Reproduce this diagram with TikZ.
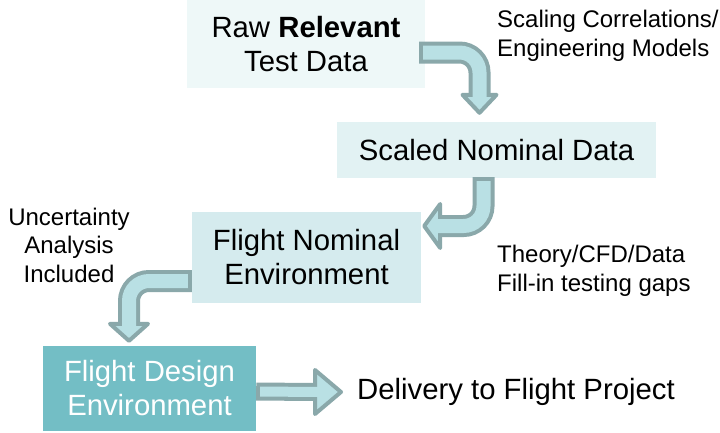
\documentclass[tikz,border=0pt]{standalone}
\usepackage{fontspec}
\setmainfont{Liberation Sans}
\usetikzlibrary{calc}
\definecolor{boxA}{RGB}{238,248,248}
\definecolor{boxB}{RGB}{226,242,243}
\definecolor{boxC}{RGB}{213,235,238}
\definecolor{boxD}{RGB}{115,190,197}
\definecolor{arrfill}{RGB}{185,224,228}
\definecolor{arrline}{RGB}{138,168,170}
\tikzset{
  box/.style={inner sep=0pt,align=center,font=\fontsize{29.3}{34}\selectfont},
  note/.style={inner sep=0pt,font=\fontsize{24}{28.5}\selectfont},
  fatout/.style={draw=arrline,line width=22pt,rounded corners=20pt},
  fatin/.style={draw=arrfill,line width=14pt,rounded corners=20pt},
  fathead/.style={fill=arrfill,draw=arrline,line width=4pt,line join=round}
}

\begin{document}
\begin{tikzpicture}[x=1pt,y=-1pt]
\useasboundingbox (0,0) rectangle (720,432);
\node[box,fill=boxA,minimum width=238pt,minimum height=88pt] (A) at (306,44) {Raw \textbf{Relevant}\\Test Data};
\node[box,fill=boxB,minimum width=319pt,minimum height=56pt] (B) at (496.5,150) {Scaled Nominal Data};
\node[box,fill=boxC,minimum width=229pt,minimum height=91pt] (C) at (306.5,257.5) {Flight Nominal\\Environment};
\node[box,fill=boxD,text=white,minimum width=213pt,minimum height=85pt] (D) at (149.5,388.5) {Flight Design\\Environment};
\node[box,anchor=west] (E) at (357,392) {Delivery to Flight Project};
\node[note,anchor=west,align=left] (n1) at (497,36) {Scaling Correlations/\\Engineering Models};
\node[note,anchor=west,align=left] (n2) at (497,271) {Theory/CFD/Data\\Fill-in testing gaps};
\node[note,align=center] (n3) at (69,245) {Uncertainty\\Analysis\\Included};

\coordinate (h1) at ($(B.north)+(-17,-27)$);
\coordinate (t1) at ($(B.north)+(-17,-9)$);
\draw[fatout] ($(A.east)+(-6,8.5)$) -| (h1);
\draw[fathead] ($(h1)+(-17,0)$) -- ($(h1)+(17,0)$) -- (t1) -- cycle;
\draw[fatin] ($(A.east)+(-2,8.5)$) -| ($(h1)+(0,3)$);

\coordinate (h2) at ($(C.east)+(19,-31.5)$);
\coordinate (t2) at ($(C.east)+(3,-31.5)$);
\draw[fatout] ($(B.south)+(-13,-1)$) |- (h2);
\draw[fathead] ($(h2)+(0,-22)$) -- ($(h2)+(0,22)$) -- (t2) -- cycle;
\draw[fatin] ($(B.south)+(-13,3)$) |- ($(h2)+(-3,0)$);

\coordinate (h3) at ($(D.north)+(-20.5,-22)$);
\coordinate (t3) at ($(D.north)+(-20.5,-5)$);
\draw[fatout] ($(C.west)+(0,23.5)$) -| (h3);
\draw[fathead] ($(h3)+(-19,0)$) -- ($(h3)+(19,0)$) -- (t3) -- cycle;
\draw[fatin] ($(C.west)+(-4,23.5)$) -| ($(h3)+(0,3)$);

\coordinate (h4) at ($(E.west)+(-42,0)$);
\coordinate (t4) at ($(E.west)+(-16,0)$);
\draw[fatout,line width=18pt] ($(D.east)+(0,3)$) -- (h4);
\draw[fathead] ($(h4)+(0,-22)$) -- ($(h4)+(0,22)$) -- (t4) -- cycle;
\draw[fatin,line width=10pt] ($(D.east)+(4,3)$) -- ($(h4)+(3,0)$);
\end{tikzpicture}
\end{document}
